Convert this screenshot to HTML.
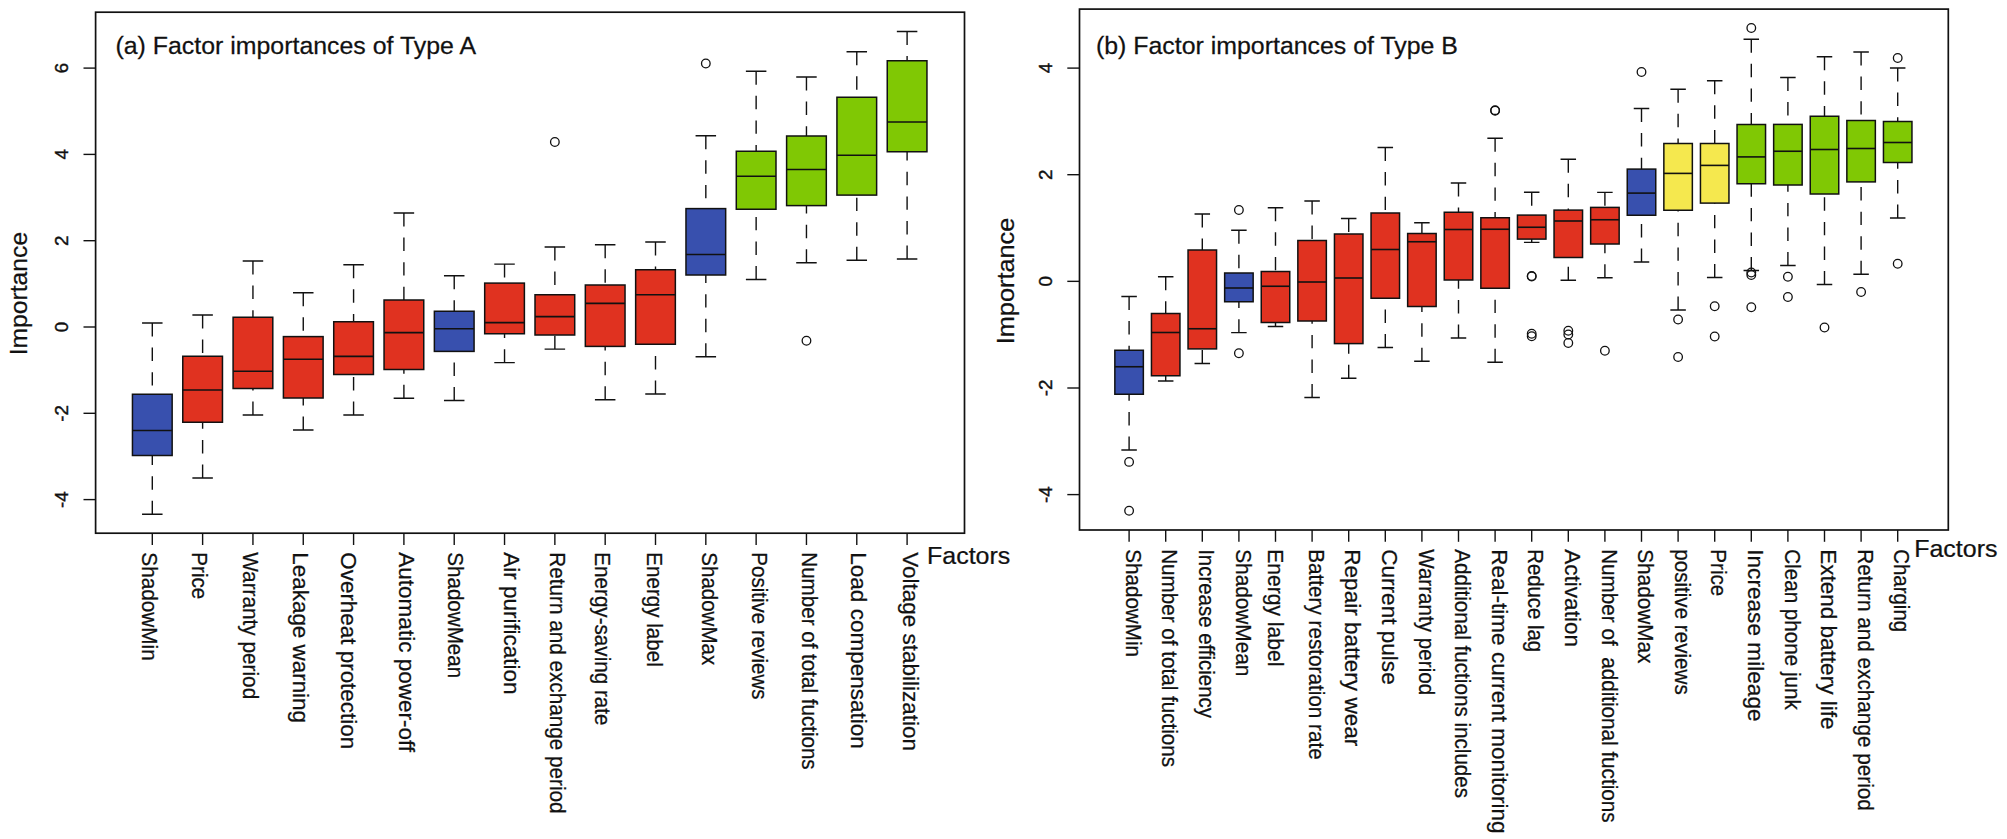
<!DOCTYPE html>
<html lang="en"><head><meta charset="utf-8"><title>Factor importances</title>
<style>
html,body{margin:0;padding:0;background:#fff;}
body{width:2007px;height:839px;overflow:hidden;}
svg{display:block;}
text{font-family:"Liberation Sans",Arial,Helvetica,sans-serif;fill:#111;stroke:#111;stroke-width:0.25px;}
.tt{font-size:24.6px;}
.ax{font-size:24.2px;}
.tk{font-size:18.8px;stroke:#111;stroke-width:0.4px;}
.lb{font-size:21.8px;}
.lw{font-size:22.6px;}
</style></head><body>
<svg width="2007" height="839" viewBox="0 0 2007 839">
<rect width="2007" height="839" fill="#fff"/>
<g id="panelA">
<rect x="95.6" y="12.2" width="868.9" height="521" fill="none" stroke="#111" stroke-width="1.7"/>
<line x1="83.5" x2="95.6" y1="68.1" y2="68.1" stroke="#111" stroke-width="1.4"/>
<text class="tk" transform="translate(68.3,68.1) rotate(-90)" text-anchor="middle">6</text>
<line x1="83.5" x2="95.6" y1="154.4" y2="154.4" stroke="#111" stroke-width="1.4"/>
<text class="tk" transform="translate(68.3,154.4) rotate(-90)" text-anchor="middle">4</text>
<line x1="83.5" x2="95.6" y1="240.7" y2="240.7" stroke="#111" stroke-width="1.4"/>
<text class="tk" transform="translate(68.3,240.7) rotate(-90)" text-anchor="middle">2</text>
<line x1="83.5" x2="95.6" y1="327" y2="327" stroke="#111" stroke-width="1.4"/>
<text class="tk" transform="translate(68.3,327) rotate(-90)" text-anchor="middle">0</text>
<line x1="83.5" x2="95.6" y1="413.3" y2="413.3" stroke="#111" stroke-width="1.4"/>
<text class="tk" transform="translate(68.3,413.3) rotate(-90)" text-anchor="middle">-2</text>
<line x1="83.5" x2="95.6" y1="499.6" y2="499.6" stroke="#111" stroke-width="1.4"/>
<text class="tk" transform="translate(68.3,499.6) rotate(-90)" text-anchor="middle">-4</text>
<text class="ax" transform="translate(27.1,293.6) rotate(-90) scale(1.02,1)" text-anchor="middle">Importance</text>
<text class="tt" transform="translate(115.5,54.4) scale(1.012,1)">(a) Factor importances of Type A</text>
<text class="ax" transform="translate(927,564) scale(1.033,1)">Factors</text>
<line x1="152.3" x2="152.3" y1="533.2" y2="545" stroke="#111" stroke-width="1.4"/>
<path d="M152.3 323V394.25M152.3 514.25V455.5" stroke="#111" stroke-width="1.4" stroke-dasharray="13.4 11.2" fill="none"/>
<path d="M142.05 323H162.55M142.05 514.25H162.55" stroke="#111" stroke-width="1.4" fill="none"/>
<rect x="132.45" y="394.25" width="39.7" height="61.25" fill="#3850ae" stroke="#111" stroke-width="1.5"/>
<line x1="132.45" x2="172.15" y1="430.5" y2="430.5" stroke="#111" stroke-width="1.6"/>
<text class="lb" transform="translate(141.85,552.3) rotate(90) scale(0.9522,1)">ShadowMin</text>
<line x1="202.62" x2="202.62" y1="533.2" y2="545" stroke="#111" stroke-width="1.4"/>
<path d="M202.62 315V356.25M202.62 478V422.25" stroke="#111" stroke-width="1.4" stroke-dasharray="13.4 11.2" fill="none"/>
<path d="M192.37 315H212.87M192.37 478H212.87" stroke="#111" stroke-width="1.4" fill="none"/>
<rect x="182.77" y="356.25" width="39.7" height="66" fill="#e03220" stroke="#111" stroke-width="1.5"/>
<line x1="182.77" x2="222.47" y1="390" y2="390" stroke="#111" stroke-width="1.6"/>
<text class="lb" transform="translate(192.32,552.3) rotate(90) scale(0.9450,1)">Price</text>
<line x1="252.94" x2="252.94" y1="533.2" y2="545" stroke="#111" stroke-width="1.4"/>
<path d="M252.94 261V317.25M252.94 415V388.5" stroke="#111" stroke-width="1.4" stroke-dasharray="13.4 11.2" fill="none"/>
<path d="M242.69 261H263.19M242.69 415H263.19" stroke="#111" stroke-width="1.4" fill="none"/>
<rect x="233.09" y="317.25" width="39.7" height="71.25" fill="#e03220" stroke="#111" stroke-width="1.5"/>
<line x1="233.09" x2="272.79" y1="371.25" y2="371.25" stroke="#111" stroke-width="1.6"/>
<text class="lb" transform="translate(243.14,552.3) rotate(90) scale(0.9528,1)">Warranty period</text>
<line x1="303.26" x2="303.26" y1="533.2" y2="545" stroke="#111" stroke-width="1.4"/>
<path d="M303.26 292.75V336.6M303.26 430V398" stroke="#111" stroke-width="1.4" stroke-dasharray="13.4 11.2" fill="none"/>
<path d="M293.01 292.75H313.51M293.01 430H313.51" stroke="#111" stroke-width="1.4" fill="none"/>
<rect x="283.41" y="336.6" width="39.7" height="61.4" fill="#e03220" stroke="#111" stroke-width="1.5"/>
<line x1="283.41" x2="323.11" y1="359.25" y2="359.25" stroke="#111" stroke-width="1.6"/>
<text class="lb lw" transform="translate(292.66,552.3) rotate(90) scale(0.9926,1)">Leakage warning</text>
<line x1="353.58" x2="353.58" y1="533.2" y2="545" stroke="#111" stroke-width="1.4"/>
<path d="M353.58 264.75V321.75M353.58 415V374.5" stroke="#111" stroke-width="1.4" stroke-dasharray="13.4 11.2" fill="none"/>
<path d="M343.33 264.75H363.83M343.33 415H363.83" stroke="#111" stroke-width="1.4" fill="none"/>
<rect x="333.73" y="321.75" width="39.7" height="52.75" fill="#e03220" stroke="#111" stroke-width="1.5"/>
<line x1="333.73" x2="373.43" y1="356.4" y2="356.4" stroke="#111" stroke-width="1.6"/>
<text class="lb lw" transform="translate(341.08,552.3) rotate(90) scale(0.9920,1)">Overheat protection</text>
<line x1="403.9" x2="403.9" y1="533.2" y2="545" stroke="#111" stroke-width="1.4"/>
<path d="M403.9 213V300M403.9 398.25V369.5" stroke="#111" stroke-width="1.4" stroke-dasharray="13.4 11.2" fill="none"/>
<path d="M393.65 213H414.15M393.65 398.25H414.15" stroke="#111" stroke-width="1.4" fill="none"/>
<rect x="384.05" y="300" width="39.7" height="69.5" fill="#e03220" stroke="#111" stroke-width="1.5"/>
<line x1="384.05" x2="423.75" y1="332.6" y2="332.6" stroke="#111" stroke-width="1.6"/>
<text class="lb lw" transform="translate(398.9,552.3) rotate(90) scale(0.9970,1)">Automatic power-off</text>
<line x1="454.22" x2="454.22" y1="533.2" y2="545" stroke="#111" stroke-width="1.4"/>
<path d="M454.22 275.75V311.25M454.22 400.5V351.4" stroke="#111" stroke-width="1.4" stroke-dasharray="13.4 11.2" fill="none"/>
<path d="M443.97 275.75H464.47M443.97 400.5H464.47" stroke="#111" stroke-width="1.4" fill="none"/>
<rect x="434.37" y="311.25" width="39.7" height="40.15" fill="#3850ae" stroke="#111" stroke-width="1.5"/>
<line x1="434.37" x2="474.07" y1="328.75" y2="328.75" stroke="#111" stroke-width="1.6"/>
<text class="lb" transform="translate(448.02,552.3) rotate(90) scale(0.9450,1)">ShadowMean</text>
<line x1="504.54" x2="504.54" y1="533.2" y2="545" stroke="#111" stroke-width="1.4"/>
<path d="M504.54 264.1V283.1M504.54 362.6V333.75" stroke="#111" stroke-width="1.4" stroke-dasharray="13.4 11.2" fill="none"/>
<path d="M494.29 264.1H514.79M494.29 362.6H514.79" stroke="#111" stroke-width="1.4" fill="none"/>
<rect x="484.69" y="283.1" width="39.7" height="50.65" fill="#e03220" stroke="#111" stroke-width="1.5"/>
<line x1="484.69" x2="524.39" y1="322.6" y2="322.6" stroke="#111" stroke-width="1.6"/>
<text class="lb lw" transform="translate(503.89,552.3) rotate(90) scale(0.9936,1)">Air purification</text>
<line x1="554.86" x2="554.86" y1="533.2" y2="545" stroke="#111" stroke-width="1.4"/>
<path d="M554.86 247V294.75M554.86 349.1V335" stroke="#111" stroke-width="1.4" stroke-dasharray="13.4 11.2" fill="none"/>
<path d="M544.61 247H565.11M544.61 349.1H565.11" stroke="#111" stroke-width="1.4" fill="none"/>
<rect x="535.01" y="294.75" width="39.7" height="40.25" fill="#e03220" stroke="#111" stroke-width="1.5"/>
<line x1="535.01" x2="574.71" y1="316.6" y2="316.6" stroke="#111" stroke-width="1.6"/>
<circle cx="554.86" cy="142" r="4.3" fill="none" stroke="#111" stroke-width="1.3"/>
<text class="lb" transform="translate(550.26,552.3) rotate(90) scale(0.9502,1)">Return and exchange period</text>
<line x1="605.18" x2="605.18" y1="533.2" y2="545" stroke="#111" stroke-width="1.4"/>
<path d="M605.18 244.75V285M605.18 399.75V346.4" stroke="#111" stroke-width="1.4" stroke-dasharray="13.4 11.2" fill="none"/>
<path d="M594.93 244.75H615.43M594.93 399.75H615.43" stroke="#111" stroke-width="1.4" fill="none"/>
<rect x="585.33" y="285" width="39.7" height="61.4" fill="#e03220" stroke="#111" stroke-width="1.5"/>
<line x1="585.33" x2="625.03" y1="303.4" y2="303.4" stroke="#111" stroke-width="1.6"/>
<text class="lb" transform="translate(594.58,552.3) rotate(90) scale(0.9472,1)">Energy-saving rate</text>
<line x1="655.5" x2="655.5" y1="533.2" y2="545" stroke="#111" stroke-width="1.4"/>
<path d="M655.5 242V269.75M655.5 394V344.25" stroke="#111" stroke-width="1.4" stroke-dasharray="13.4 11.2" fill="none"/>
<path d="M645.25 242H665.75M645.25 394H665.75" stroke="#111" stroke-width="1.4" fill="none"/>
<rect x="635.65" y="269.75" width="39.7" height="74.5" fill="#e03220" stroke="#111" stroke-width="1.5"/>
<line x1="635.65" x2="675.35" y1="294.75" y2="294.75" stroke="#111" stroke-width="1.6"/>
<text class="lb" transform="translate(647.35,552.3) rotate(90) scale(0.9450,1)">Energy label</text>
<line x1="705.82" x2="705.82" y1="533.2" y2="545" stroke="#111" stroke-width="1.4"/>
<path d="M705.82 135.75V208.6M705.82 356.75V275" stroke="#111" stroke-width="1.4" stroke-dasharray="13.4 11.2" fill="none"/>
<path d="M695.57 135.75H716.07M695.57 356.75H716.07" stroke="#111" stroke-width="1.4" fill="none"/>
<rect x="685.97" y="208.6" width="39.7" height="66.4" fill="#3850ae" stroke="#111" stroke-width="1.5"/>
<line x1="685.97" x2="725.67" y1="254.5" y2="254.5" stroke="#111" stroke-width="1.6"/>
<circle cx="705.82" cy="63.5" r="4.3" fill="none" stroke="#111" stroke-width="1.3"/>
<text class="lb" transform="translate(701.52,552.3) rotate(90) scale(0.9416,1)">ShadowMax</text>
<line x1="756.14" x2="756.14" y1="533.2" y2="545" stroke="#111" stroke-width="1.4"/>
<path d="M756.14 71.25V151.25M756.14 279.5V209.25" stroke="#111" stroke-width="1.4" stroke-dasharray="13.4 11.2" fill="none"/>
<path d="M745.89 71.25H766.39M745.89 279.5H766.39" stroke="#111" stroke-width="1.4" fill="none"/>
<rect x="736.29" y="151.25" width="39.7" height="58" fill="#80c804" stroke="#111" stroke-width="1.5"/>
<line x1="736.29" x2="775.99" y1="176.25" y2="176.25" stroke="#111" stroke-width="1.6"/>
<text class="lb" transform="translate(752.04,552.3) rotate(90) scale(0.9424,1)">Positive reviews</text>
<line x1="806.46" x2="806.46" y1="533.2" y2="545" stroke="#111" stroke-width="1.4"/>
<path d="M806.46 77V136M806.46 262.75V205.6" stroke="#111" stroke-width="1.4" stroke-dasharray="13.4 11.2" fill="none"/>
<path d="M796.21 77H816.71M796.21 262.75H816.71" stroke="#111" stroke-width="1.4" fill="none"/>
<rect x="786.61" y="136" width="39.7" height="69.6" fill="#80c804" stroke="#111" stroke-width="1.5"/>
<line x1="786.61" x2="826.31" y1="169.5" y2="169.5" stroke="#111" stroke-width="1.6"/>
<circle cx="806.46" cy="340.75" r="4.3" fill="none" stroke="#111" stroke-width="1.3"/>
<text class="lb" transform="translate(802.11,552.3) rotate(90) scale(0.9450,1)">Number of total fuctions</text>
<line x1="856.78" x2="856.78" y1="533.2" y2="545" stroke="#111" stroke-width="1.4"/>
<path d="M856.78 51.75V97.25M856.78 260.25V195.1" stroke="#111" stroke-width="1.4" stroke-dasharray="13.4 11.2" fill="none"/>
<path d="M846.53 51.75H867.03M846.53 260.25H867.03" stroke="#111" stroke-width="1.4" fill="none"/>
<rect x="836.93" y="97.25" width="39.7" height="97.85" fill="#80c804" stroke="#111" stroke-width="1.5"/>
<line x1="836.93" x2="876.63" y1="155.25" y2="155.25" stroke="#111" stroke-width="1.6"/>
<text class="lb lw" transform="translate(850.98,552.3) rotate(90) scale(0.9971,1)">Load compensation</text>
<line x1="907.1" x2="907.1" y1="533.2" y2="545" stroke="#111" stroke-width="1.4"/>
<path d="M907.1 31.5V60.75M907.1 259V151.75" stroke="#111" stroke-width="1.4" stroke-dasharray="13.4 11.2" fill="none"/>
<path d="M896.85 31.5H917.35M896.85 259H917.35" stroke="#111" stroke-width="1.4" fill="none"/>
<rect x="887.25" y="60.75" width="39.7" height="91" fill="#80c804" stroke="#111" stroke-width="1.5"/>
<line x1="887.25" x2="926.95" y1="122" y2="122" stroke="#111" stroke-width="1.6"/>
<text class="lb lw" transform="translate(902.5,552.3) rotate(90) scale(0.9950,1)">Voltage stabilization</text>
</g>
<g id="panelB">
<rect x="1079.5" y="9.1" width="868.8" height="520.9" fill="none" stroke="#111" stroke-width="1.7"/>
<line x1="1067.3" x2="1079.5" y1="68.1" y2="68.1" stroke="#111" stroke-width="1.4"/>
<text class="tk" transform="translate(1052,68.1) rotate(-90)" text-anchor="middle">4</text>
<line x1="1067.3" x2="1079.5" y1="174.7" y2="174.7" stroke="#111" stroke-width="1.4"/>
<text class="tk" transform="translate(1052,174.7) rotate(-90)" text-anchor="middle">2</text>
<line x1="1067.3" x2="1079.5" y1="281.35" y2="281.35" stroke="#111" stroke-width="1.4"/>
<text class="tk" transform="translate(1052,281.35) rotate(-90)" text-anchor="middle">0</text>
<line x1="1067.3" x2="1079.5" y1="388" y2="388" stroke="#111" stroke-width="1.4"/>
<text class="tk" transform="translate(1052,388) rotate(-90)" text-anchor="middle">-2</text>
<line x1="1067.3" x2="1079.5" y1="494.6" y2="494.6" stroke="#111" stroke-width="1.4"/>
<text class="tk" transform="translate(1052,494.6) rotate(-90)" text-anchor="middle">-4</text>
<text class="ax" transform="translate(1013.6,281) rotate(-90) scale(1.045,1)" text-anchor="middle">Importance</text>
<text class="tt" transform="translate(1096,54) scale(1.012,1)">(b) Factor importances of Type B</text>
<text class="ax" transform="translate(1914.2,557) scale(1.033,1)">Factors</text>
<line x1="1129.1" x2="1129.1" y1="530" y2="541.8" stroke="#111" stroke-width="1.4"/>
<path d="M1129.1 296.5V350.25M1129.1 450V394.25" stroke="#111" stroke-width="1.4" stroke-dasharray="13.4 11.2" fill="none"/>
<path d="M1121.35 296.5H1136.85M1121.35 450H1136.85" stroke="#111" stroke-width="1.4" fill="none"/>
<rect x="1114.85" y="350.25" width="28.5" height="44" fill="#3850ae" stroke="#111" stroke-width="1.5"/>
<line x1="1114.85" x2="1143.35" y1="366.75" y2="366.75" stroke="#111" stroke-width="1.6"/>
<circle cx="1129.1" cy="461.9" r="4.3" fill="none" stroke="#111" stroke-width="1.3"/>
<circle cx="1129.1" cy="510.75" r="4.3" fill="none" stroke="#111" stroke-width="1.3"/>
<text class="lb" transform="translate(1125.7,549.2) rotate(90) scale(0.9469,1)">ShadowMin</text>
<line x1="1165.7" x2="1165.7" y1="530" y2="541.8" stroke="#111" stroke-width="1.4"/>
<path d="M1165.7 276.75V313.5M1165.7 381V375.75" stroke="#111" stroke-width="1.4" stroke-dasharray="13.4 11.2" fill="none"/>
<path d="M1157.95 276.75H1173.45M1157.95 381H1173.45" stroke="#111" stroke-width="1.4" fill="none"/>
<rect x="1151.45" y="313.5" width="28.5" height="62.25" fill="#e03220" stroke="#111" stroke-width="1.5"/>
<line x1="1151.45" x2="1179.95" y1="332.5" y2="332.5" stroke="#111" stroke-width="1.6"/>
<text class="lb" transform="translate(1162.3,549.2) rotate(90) scale(0.9468,1)">Number of total fuctions</text>
<line x1="1202.3" x2="1202.3" y1="530" y2="541.8" stroke="#111" stroke-width="1.4"/>
<path d="M1202.3 214V250M1202.3 363.5V348.9" stroke="#111" stroke-width="1.4" stroke-dasharray="13.4 11.2" fill="none"/>
<path d="M1194.55 214H1210.05M1194.55 363.5H1210.05" stroke="#111" stroke-width="1.4" fill="none"/>
<rect x="1188.05" y="250" width="28.5" height="98.9" fill="#e03220" stroke="#111" stroke-width="1.5"/>
<line x1="1188.05" x2="1216.55" y1="328.75" y2="328.75" stroke="#111" stroke-width="1.6"/>
<text class="lb" transform="translate(1198.9,549.2) rotate(90) scale(0.9372,1)">Increase efficiency</text>
<line x1="1238.9" x2="1238.9" y1="530" y2="541.8" stroke="#111" stroke-width="1.4"/>
<path d="M1238.9 230.25V273M1238.9 332.6V301.75" stroke="#111" stroke-width="1.4" stroke-dasharray="13.4 11.2" fill="none"/>
<path d="M1231.15 230.25H1246.65M1231.15 332.6H1246.65" stroke="#111" stroke-width="1.4" fill="none"/>
<rect x="1224.65" y="273" width="28.5" height="28.75" fill="#3850ae" stroke="#111" stroke-width="1.5"/>
<line x1="1224.65" x2="1253.15" y1="288" y2="288" stroke="#111" stroke-width="1.6"/>
<circle cx="1238.9" cy="210" r="4.3" fill="none" stroke="#111" stroke-width="1.3"/>
<circle cx="1238.9" cy="353.25" r="4.3" fill="none" stroke="#111" stroke-width="1.3"/>
<text class="lb" transform="translate(1235.5,549.2) rotate(90) scale(0.9542,1)">ShadowMean</text>
<line x1="1275.5" x2="1275.5" y1="530" y2="541.8" stroke="#111" stroke-width="1.4"/>
<path d="M1275.5 207.75V271.5M1275.5 326.5V322.5" stroke="#111" stroke-width="1.4" stroke-dasharray="13.4 11.2" fill="none"/>
<path d="M1267.75 207.75H1283.25M1267.75 326.5H1283.25" stroke="#111" stroke-width="1.4" fill="none"/>
<rect x="1261.25" y="271.5" width="28.5" height="51" fill="#e03220" stroke="#111" stroke-width="1.5"/>
<line x1="1261.25" x2="1289.75" y1="286.25" y2="286.25" stroke="#111" stroke-width="1.6"/>
<text class="lb" transform="translate(1268,549.2) rotate(90) scale(0.9669,1)">Energy label</text>
<line x1="1312.1" x2="1312.1" y1="530" y2="541.8" stroke="#111" stroke-width="1.4"/>
<path d="M1312.1 201V240.5M1312.1 397.5V321" stroke="#111" stroke-width="1.4" stroke-dasharray="13.4 11.2" fill="none"/>
<path d="M1304.35 201H1319.85M1304.35 397.5H1319.85" stroke="#111" stroke-width="1.4" fill="none"/>
<rect x="1297.85" y="240.5" width="28.5" height="80.5" fill="#e03220" stroke="#111" stroke-width="1.5"/>
<line x1="1297.85" x2="1326.35" y1="282" y2="282" stroke="#111" stroke-width="1.6"/>
<text class="lb" transform="translate(1308.7,549.2) rotate(90) scale(0.9505,1)">Battery restoration rate</text>
<line x1="1348.7" x2="1348.7" y1="530" y2="541.8" stroke="#111" stroke-width="1.4"/>
<path d="M1348.7 218.5V234M1348.7 378.25V343.6" stroke="#111" stroke-width="1.4" stroke-dasharray="13.4 11.2" fill="none"/>
<path d="M1340.95 218.5H1356.45M1340.95 378.25H1356.45" stroke="#111" stroke-width="1.4" fill="none"/>
<rect x="1334.45" y="234" width="28.5" height="109.6" fill="#e03220" stroke="#111" stroke-width="1.5"/>
<line x1="1334.45" x2="1362.95" y1="278" y2="278" stroke="#111" stroke-width="1.6"/>
<text class="lb lw" transform="translate(1345.3,549.2) rotate(90) scale(1.0001,1)">Repair battery wear</text>
<line x1="1385.3" x2="1385.3" y1="530" y2="541.8" stroke="#111" stroke-width="1.4"/>
<path d="M1385.3 147.5V213M1385.3 347.5V298.25" stroke="#111" stroke-width="1.4" stroke-dasharray="13.4 11.2" fill="none"/>
<path d="M1377.55 147.5H1393.05M1377.55 347.5H1393.05" stroke="#111" stroke-width="1.4" fill="none"/>
<rect x="1371.05" y="213" width="28.5" height="85.25" fill="#e03220" stroke="#111" stroke-width="1.5"/>
<line x1="1371.05" x2="1399.55" y1="249.5" y2="249.5" stroke="#111" stroke-width="1.6"/>
<text class="lb lw" transform="translate(1381.9,549.2) rotate(90) scale(0.9995,1)">Current pulse</text>
<line x1="1421.9" x2="1421.9" y1="530" y2="541.8" stroke="#111" stroke-width="1.4"/>
<path d="M1421.9 222.75V233.5M1421.9 361.25V306.5" stroke="#111" stroke-width="1.4" stroke-dasharray="13.4 11.2" fill="none"/>
<path d="M1414.15 222.75H1429.65M1414.15 361.25H1429.65" stroke="#111" stroke-width="1.4" fill="none"/>
<rect x="1407.65" y="233.5" width="28.5" height="73" fill="#e03220" stroke="#111" stroke-width="1.5"/>
<line x1="1407.65" x2="1436.15" y1="241.75" y2="241.75" stroke="#111" stroke-width="1.6"/>
<text class="lb" transform="translate(1418.5,549.2) rotate(90) scale(0.9464,1)">Warranty period</text>
<line x1="1458.5" x2="1458.5" y1="530" y2="541.8" stroke="#111" stroke-width="1.4"/>
<path d="M1458.5 183V212.25M1458.5 338V280" stroke="#111" stroke-width="1.4" stroke-dasharray="13.4 11.2" fill="none"/>
<path d="M1450.75 183H1466.25M1450.75 338H1466.25" stroke="#111" stroke-width="1.4" fill="none"/>
<rect x="1444.25" y="212.25" width="28.5" height="67.75" fill="#e03220" stroke="#111" stroke-width="1.5"/>
<line x1="1444.25" x2="1472.75" y1="229.5" y2="229.5" stroke="#111" stroke-width="1.6"/>
<text class="lb" transform="translate(1455.1,549.2) rotate(90) scale(0.9473,1)">Additional fuctions includes</text>
<line x1="1495.1" x2="1495.1" y1="530" y2="541.8" stroke="#111" stroke-width="1.4"/>
<path d="M1495.1 138.25V217.75M1495.1 362.25V288.25" stroke="#111" stroke-width="1.4" stroke-dasharray="13.4 11.2" fill="none"/>
<path d="M1487.35 138.25H1502.85M1487.35 362.25H1502.85" stroke="#111" stroke-width="1.4" fill="none"/>
<rect x="1480.85" y="217.75" width="28.5" height="70.5" fill="#e03220" stroke="#111" stroke-width="1.5"/>
<line x1="1480.85" x2="1509.35" y1="229.25" y2="229.25" stroke="#111" stroke-width="1.6"/>
<circle cx="1495.1" cy="110.75" r="4.3" fill="none" stroke="#111" stroke-width="1.3"/>
<circle cx="1495.1" cy="110.2" r="4.3" fill="none" stroke="#111" stroke-width="1.3"/>
<text class="lb lw" transform="translate(1491.7,549.2) rotate(90) scale(0.9979,1)">Real-time current monitoring</text>
<line x1="1531.7" x2="1531.7" y1="530" y2="541.8" stroke="#111" stroke-width="1.4"/>
<path d="M1531.7 192.25V215.1M1531.7 242.4V239.1" stroke="#111" stroke-width="1.4" stroke-dasharray="13.4 11.2" fill="none"/>
<path d="M1523.95 192.25H1539.45M1523.95 242.4H1539.45" stroke="#111" stroke-width="1.4" fill="none"/>
<rect x="1517.45" y="215.1" width="28.5" height="24" fill="#e03220" stroke="#111" stroke-width="1.5"/>
<line x1="1517.45" x2="1545.95" y1="227.25" y2="227.25" stroke="#111" stroke-width="1.6"/>
<circle cx="1531.7" cy="276.5" r="4.3" fill="none" stroke="#111" stroke-width="1.3"/>
<circle cx="1531.7" cy="276" r="4.3" fill="none" stroke="#111" stroke-width="1.3"/>
<circle cx="1531.7" cy="333.75" r="4.3" fill="none" stroke="#111" stroke-width="1.3"/>
<circle cx="1531.7" cy="336.25" r="4.3" fill="none" stroke="#111" stroke-width="1.3"/>
<text class="lb" transform="translate(1528.3,549.2) rotate(90) scale(0.9339,1)">Reduce lag</text>
<line x1="1568.3" x2="1568.3" y1="530" y2="541.8" stroke="#111" stroke-width="1.4"/>
<path d="M1568.3 159.25V210.1M1568.3 280.25V257.5" stroke="#111" stroke-width="1.4" stroke-dasharray="13.4 11.2" fill="none"/>
<path d="M1560.55 159.25H1576.05M1560.55 280.25H1576.05" stroke="#111" stroke-width="1.4" fill="none"/>
<rect x="1554.05" y="210.1" width="28.5" height="47.4" fill="#e03220" stroke="#111" stroke-width="1.5"/>
<line x1="1554.05" x2="1582.55" y1="221" y2="221" stroke="#111" stroke-width="1.6"/>
<circle cx="1568.3" cy="330.75" r="4.3" fill="none" stroke="#111" stroke-width="1.3"/>
<circle cx="1568.3" cy="334.5" r="4.3" fill="none" stroke="#111" stroke-width="1.3"/>
<circle cx="1568.3" cy="343" r="4.3" fill="none" stroke="#111" stroke-width="1.3"/>
<text class="lb lw" transform="translate(1564.9,549.2) rotate(90) scale(0.9992,1)">Activation</text>
<line x1="1604.9" x2="1604.9" y1="530" y2="541.8" stroke="#111" stroke-width="1.4"/>
<path d="M1604.9 192.4V207.4M1604.9 277.75V244" stroke="#111" stroke-width="1.4" stroke-dasharray="13.4 11.2" fill="none"/>
<path d="M1597.15 192.4H1612.65M1597.15 277.75H1612.65" stroke="#111" stroke-width="1.4" fill="none"/>
<rect x="1590.65" y="207.4" width="28.5" height="36.6" fill="#e03220" stroke="#111" stroke-width="1.5"/>
<line x1="1590.65" x2="1619.15" y1="219.75" y2="219.75" stroke="#111" stroke-width="1.6"/>
<circle cx="1604.9" cy="350.75" r="4.3" fill="none" stroke="#111" stroke-width="1.3"/>
<text class="lb" transform="translate(1601.5,549.2) rotate(90) scale(0.9485,1)">Number of &#160;additional fuctions</text>
<line x1="1641.5" x2="1641.5" y1="530" y2="541.8" stroke="#111" stroke-width="1.4"/>
<path d="M1641.5 108.5V169.1M1641.5 262V215.25" stroke="#111" stroke-width="1.4" stroke-dasharray="13.4 11.2" fill="none"/>
<path d="M1633.75 108.5H1649.25M1633.75 262H1649.25" stroke="#111" stroke-width="1.4" fill="none"/>
<rect x="1627.25" y="169.1" width="28.5" height="46.15" fill="#3850ae" stroke="#111" stroke-width="1.5"/>
<line x1="1627.25" x2="1655.75" y1="193.1" y2="193.1" stroke="#111" stroke-width="1.6"/>
<circle cx="1641.5" cy="72" r="4.3" fill="none" stroke="#111" stroke-width="1.3"/>
<text class="lb" transform="translate(1638.1,549.2) rotate(90) scale(0.9534,1)">ShadowMax</text>
<line x1="1678.1" x2="1678.1" y1="530" y2="541.8" stroke="#111" stroke-width="1.4"/>
<path d="M1678.1 89.25V143.5M1678.1 310V210.25" stroke="#111" stroke-width="1.4" stroke-dasharray="13.4 11.2" fill="none"/>
<path d="M1670.35 89.25H1685.85M1670.35 310H1685.85" stroke="#111" stroke-width="1.4" fill="none"/>
<rect x="1663.85" y="143.5" width="28.5" height="66.75" fill="#f5e84e" stroke="#111" stroke-width="1.5"/>
<line x1="1663.85" x2="1692.35" y1="173.4" y2="173.4" stroke="#111" stroke-width="1.6"/>
<circle cx="1678.1" cy="319.5" r="4.3" fill="none" stroke="#111" stroke-width="1.3"/>
<circle cx="1678.1" cy="357" r="4.3" fill="none" stroke="#111" stroke-width="1.3"/>
<text class="lb" transform="translate(1674.7,549.2) rotate(90) scale(0.9464,1)">positive reviews</text>
<line x1="1714.7" x2="1714.7" y1="530" y2="541.8" stroke="#111" stroke-width="1.4"/>
<path d="M1714.7 80.75V143.5M1714.7 277.5V203.1" stroke="#111" stroke-width="1.4" stroke-dasharray="13.4 11.2" fill="none"/>
<path d="M1706.95 80.75H1722.45M1706.95 277.5H1722.45" stroke="#111" stroke-width="1.4" fill="none"/>
<rect x="1700.45" y="143.5" width="28.5" height="59.6" fill="#f5e84e" stroke="#111" stroke-width="1.5"/>
<line x1="1700.45" x2="1728.95" y1="165.4" y2="165.4" stroke="#111" stroke-width="1.6"/>
<circle cx="1714.7" cy="306.25" r="4.3" fill="none" stroke="#111" stroke-width="1.3"/>
<circle cx="1714.7" cy="336.5" r="4.3" fill="none" stroke="#111" stroke-width="1.3"/>
<text class="lb" transform="translate(1711.3,549.2) rotate(90) scale(0.9492,1)">Price</text>
<line x1="1751.3" x2="1751.3" y1="530" y2="541.8" stroke="#111" stroke-width="1.4"/>
<path d="M1751.3 39.25V124.5M1751.3 270.5V183.75" stroke="#111" stroke-width="1.4" stroke-dasharray="13.4 11.2" fill="none"/>
<path d="M1743.55 39.25H1759.05M1743.55 270.5H1759.05" stroke="#111" stroke-width="1.4" fill="none"/>
<rect x="1737.05" y="124.5" width="28.5" height="59.25" fill="#80c804" stroke="#111" stroke-width="1.5"/>
<line x1="1737.05" x2="1765.55" y1="156.9" y2="156.9" stroke="#111" stroke-width="1.6"/>
<circle cx="1751.3" cy="28" r="4.3" fill="none" stroke="#111" stroke-width="1.3"/>
<circle cx="1751.3" cy="272.5" r="4.3" fill="none" stroke="#111" stroke-width="1.3"/>
<circle cx="1751.3" cy="275" r="4.3" fill="none" stroke="#111" stroke-width="1.3"/>
<circle cx="1751.3" cy="307.25" r="4.3" fill="none" stroke="#111" stroke-width="1.3"/>
<text class="lb lw" transform="translate(1747.9,549.2) rotate(90) scale(1.0021,1)">Increase mileage</text>
<line x1="1787.9" x2="1787.9" y1="530" y2="541.8" stroke="#111" stroke-width="1.4"/>
<path d="M1787.9 77.5V124.4M1787.9 265.5V185" stroke="#111" stroke-width="1.4" stroke-dasharray="13.4 11.2" fill="none"/>
<path d="M1780.15 77.5H1795.65M1780.15 265.5H1795.65" stroke="#111" stroke-width="1.4" fill="none"/>
<rect x="1773.65" y="124.4" width="28.5" height="60.6" fill="#80c804" stroke="#111" stroke-width="1.5"/>
<line x1="1773.65" x2="1802.15" y1="151.25" y2="151.25" stroke="#111" stroke-width="1.6"/>
<circle cx="1787.9" cy="276.75" r="4.3" fill="none" stroke="#111" stroke-width="1.3"/>
<circle cx="1787.9" cy="297" r="4.3" fill="none" stroke="#111" stroke-width="1.3"/>
<text class="lb" transform="translate(1784.5,549.2) rotate(90) scale(0.9474,1)">Clean phone junk</text>
<line x1="1824.5" x2="1824.5" y1="530" y2="541.8" stroke="#111" stroke-width="1.4"/>
<path d="M1824.5 56.75V116.25M1824.5 284.5V194" stroke="#111" stroke-width="1.4" stroke-dasharray="13.4 11.2" fill="none"/>
<path d="M1816.75 56.75H1832.25M1816.75 284.5H1832.25" stroke="#111" stroke-width="1.4" fill="none"/>
<rect x="1810.25" y="116.25" width="28.5" height="77.75" fill="#80c804" stroke="#111" stroke-width="1.5"/>
<line x1="1810.25" x2="1838.75" y1="149.5" y2="149.5" stroke="#111" stroke-width="1.6"/>
<circle cx="1824.5" cy="327.5" r="4.3" fill="none" stroke="#111" stroke-width="1.3"/>
<text class="lb lw" transform="translate(1821.1,549.2) rotate(90) scale(0.9972,1)">Extend battery life</text>
<line x1="1861.1" x2="1861.1" y1="530" y2="541.8" stroke="#111" stroke-width="1.4"/>
<path d="M1861.1 52V120.5M1861.1 274.25V181.9" stroke="#111" stroke-width="1.4" stroke-dasharray="13.4 11.2" fill="none"/>
<path d="M1853.35 52H1868.85M1853.35 274.25H1868.85" stroke="#111" stroke-width="1.4" fill="none"/>
<rect x="1846.85" y="120.5" width="28.5" height="61.4" fill="#80c804" stroke="#111" stroke-width="1.5"/>
<line x1="1846.85" x2="1875.35" y1="148.5" y2="148.5" stroke="#111" stroke-width="1.6"/>
<circle cx="1861.1" cy="292" r="4.3" fill="none" stroke="#111" stroke-width="1.3"/>
<text class="lb" transform="translate(1857.7,549.2) rotate(90) scale(0.9516,1)">Return and exchange period</text>
<line x1="1897.7" x2="1897.7" y1="530" y2="541.8" stroke="#111" stroke-width="1.4"/>
<path d="M1897.7 68V121.5M1897.7 218V162.5" stroke="#111" stroke-width="1.4" stroke-dasharray="13.4 11.2" fill="none"/>
<path d="M1889.95 68H1905.45M1889.95 218H1905.45" stroke="#111" stroke-width="1.4" fill="none"/>
<rect x="1883.45" y="121.5" width="28.5" height="41" fill="#80c804" stroke="#111" stroke-width="1.5"/>
<line x1="1883.45" x2="1911.95" y1="142.5" y2="142.5" stroke="#111" stroke-width="1.6"/>
<circle cx="1897.7" cy="58" r="4.3" fill="none" stroke="#111" stroke-width="1.3"/>
<circle cx="1897.7" cy="263.75" r="4.3" fill="none" stroke="#111" stroke-width="1.3"/>
<text class="lb" transform="translate(1894.3,549.2) rotate(90) scale(0.9381,1)">Charging</text>
</g>
</svg>
</body></html>
